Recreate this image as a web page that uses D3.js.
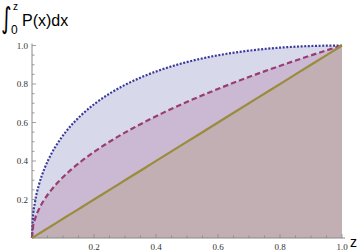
<!DOCTYPE html>
<html>
<head>
<meta charset="utf-8">
<script src="https://cdn.jsdelivr.net/npm/d3@7"></script>
<style>
  body { margin: 0; background: #fff; }
  svg { display: block; }
</style>
</head>
<body>
<div id="main"></div>
<script>
// sample positions along z
var zValues = [0, 0.0025, 0.01, 0.0225, 0.04, 0.0625, 0.09, 0.1225, 0.16, 0.2025, 0.25,
  0.3025, 0.36, 0.4225, 0.49, 0.5625, 0.64, 0.7225, 0.81, 0.9025, 1];

// dotted blue curve
var blueValues = [0, 0.0975, 0.19, 0.2775, 0.36, 0.4375, 0.51, 0.5775, 0.64, 0.6975, 0.75,
  0.7975, 0.84, 0.8775, 0.91, 0.9375, 0.96, 0.9775, 0.99, 0.9975, 1];

// dashed purple curve
var purpleValues = [0, 0.05, 0.1, 0.15, 0.2, 0.25, 0.3, 0.35, 0.4, 0.45, 0.5,
  0.55, 0.6, 0.65, 0.7, 0.75, 0.8, 0.85, 0.9, 0.95, 1];

// solid olive line
var oliveValues = [0, 0.0025, 0.01, 0.0225, 0.04, 0.0625, 0.09, 0.1225, 0.16, 0.2025, 0.25,
  0.3025, 0.36, 0.4225, 0.49, 0.5625, 0.64, 0.7225, 0.81, 0.9025, 1];

var majorTicks = [0.2, 0.4, 0.6, 0.8, 1.0];
var tickLabels = ['0.2', '0.4', '0.6', '0.8', '1.0'];

var width = 364, height = 252;

var svg = d3.select('#main').append('svg').attr('width', width).attr('height', height);

var x = d3.scaleLinear().domain([0, 1]).range([32, 342]);
var y = d3.scaleLinear().domain([0, 1]).range([238, 45.5]);

var series = [
  { values: blueValues, color: '#3a3a9c', dash: '2,1.6' },
  { values: purpleValues, color: '#993d71', dash: '5.5,3' },
  { values: oliveValues, color: '#998c3d', dash: null }
];

var area = d3.area()
  .x(function (d, i) { return x(zValues[i]); })
  .y0(y(0))
  .y1(function (d) { return y(d); })
  .curve(d3.curveMonotoneX);

var line = d3.line()
  .x(function (d, i) { return x(zValues[i]); })
  .y(function (d) { return y(d); })
  .curve(d3.curveMonotoneX);

svg.selectAll('.fill')
  .data(series)
  .enter()
  .append('path')
  .attr('class', 'fill')
  .attr('d', function (d) { return area(d.values); })
  .attr('fill', function (d) { return d.color; })
  .attr('fill-opacity', 0.2);

// axes
var axisColor = '#888';
var minor = d3.range(1, 21).map(function (i) { return i / 20; });

var gx = svg.append('g');
gx.append('line').attr('x1', x(0)).attr('x2', x(1) + 3).attr('y1', y(0)).attr('y2', y(0))
  .attr('stroke', axisColor).attr('stroke-width', 1);
gx.selectAll('.mt').data(minor).enter().append('line')
  .attr('x1', function (d) { return x(d); }).attr('x2', function (d) { return x(d); })
  .attr('y1', y(0))
  .attr('y2', function (d) { return y(0) - (Math.round(d * 20) % 4 === 0 ? 4 : 2.5); })
  .attr('stroke', axisColor).attr('stroke-width', 0.8);
gx.selectAll('text').data(majorTicks).enter().append('text')
  .attr('x', function (d) { return x(d); })
  .attr('y', 249.5)
  .attr('text-anchor', 'middle')
  .attr('font-family', '"Liberation Serif", serif')
  .attr('font-size', 9)
  .attr('fill', '#333')
  .text(function (d, i) { return tickLabels[i]; });

var gy = svg.append('g');
gy.append('line').attr('x1', x(0)).attr('x2', x(0)).attr('y1', y(0)).attr('y2', y(1) - 2)
  .attr('stroke', axisColor).attr('stroke-width', 1);
gy.selectAll('.mt').data(minor).enter().append('line')
  .attr('y1', function (d) { return y(d); }).attr('y2', function (d) { return y(d); })
  .attr('x1', x(0))
  .attr('x2', function (d) { return x(0) + (Math.round(d * 20) % 4 === 0 ? 4 : 2.5); })
  .attr('stroke', axisColor).attr('stroke-width', 0.8);
gy.selectAll('text').data(majorTicks).enter().append('text')
  .attr('x', 28)
  .attr('y', function (d) { return y(d) + 3; })
  .attr('text-anchor', 'end')
  .attr('font-family', '"Liberation Serif", serif')
  .attr('font-size', 9)
  .attr('fill', '#333')
  .text(function (d, i) { return tickLabels[i]; });

svg.selectAll('.curve')
  .data(series)
  .enter()
  .append('path')
  .attr('class', 'curve')
  .attr('d', function (d) { return line(d.values); })
  .attr('fill', 'none')
  .attr('stroke', function (d) { return d.color; })
  .attr('stroke-width', 2.2)
  .attr('stroke-dasharray', function (d) { return d.dash; });

// axis labels
svg.append('text').attr('x', 350).attr('y', 247)
  .attr('font-family', '"Liberation Sans", sans-serif').attr('font-size', 14)
  .text('z');

var lab = svg.append('g').attr('font-family', '"Liberation Sans", sans-serif').attr('fill', '#000');
lab.append('text').attr('transform', 'translate(1,28) scale(1,1.45)').attr('font-size', 20)
  .attr('font-family', '"DejaVu Sans", sans-serif').text('\u222B');
lab.append('text').attr('x', 13).attr('y', 10).attr('font-size', 10).text('z');
lab.append('text').attr('x', 11).attr('y', 34).attr('font-size', 12).text('0');
lab.append('text').attr('x', 22).attr('y', 26).attr('font-size', 16).text('P(x)dx');
</script>
</body>
</html>
